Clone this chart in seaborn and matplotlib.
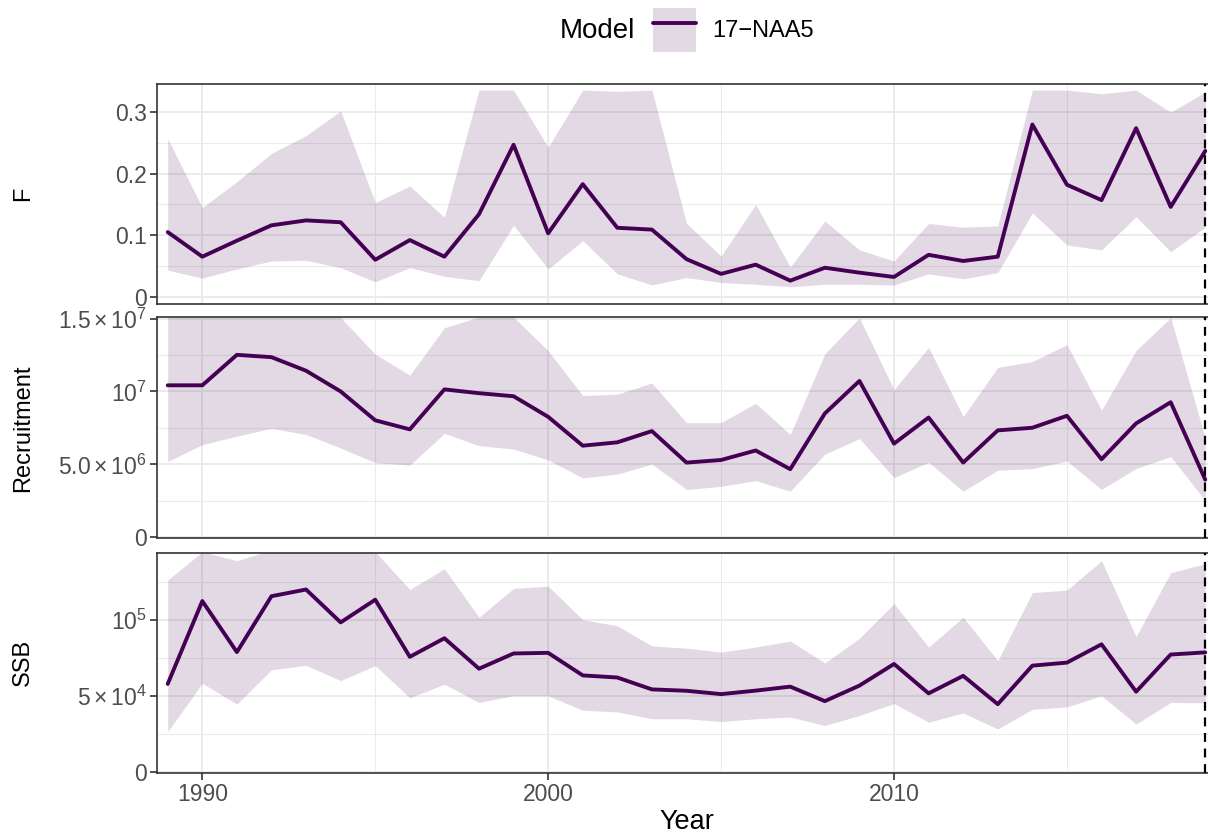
import numpy as np
import pandas as pd
import matplotlib
matplotlib.use("Agg")
import matplotlib.pyplot as plt
import seaborn as sns
from matplotlib.patches import Patch
from matplotlib.lines import Line2D
from matplotlib.ticker import FixedLocator

# data (model 17-NAA5)
years = list(range(1989, 2020))

f_est = [0.105, 0.065, 0.091, 0.116, 0.124, 0.121, 0.060, 0.092, 0.065, 0.134, 0.247,
         0.103, 0.183, 0.112, 0.109, 0.061, 0.037, 0.052, 0.026, 0.047, 0.039,
         0.032, 0.068, 0.058, 0.065, 0.280, 0.182, 0.157, 0.274, 0.146, 0.237]
f_lo = [0.043, 0.030, 0.045, 0.058, 0.059, 0.047, 0.024, 0.047, 0.033, 0.026, 0.116,
        0.045, 0.091, 0.037, 0.019, 0.031, 0.023, 0.020, 0.016, 0.020, 0.020,
        0.019, 0.037, 0.029, 0.039, 0.136, 0.084, 0.076, 0.130, 0.073, 0.113]
f_hi = [0.257, 0.145, 0.187, 0.233, 0.262, 0.302, 0.153, 0.180, 0.129, 0.336, 0.336,
        0.243, 0.336, 0.334, 0.336, 0.119, 0.066, 0.150, 0.048, 0.123, 0.076,
        0.058, 0.119, 0.113, 0.115, 0.336, 0.336, 0.330, 0.336, 0.300, 0.333]

# recruitment in millions
rec_est = [10.42, 10.42, 12.51, 12.35, 11.42, 10.00, 8.02, 7.40, 10.14, 9.88, 9.67,
           8.26, 6.28, 6.51, 7.28, 5.12, 5.30, 5.95, 4.67, 8.49, 10.72,
           6.42, 8.21, 5.12, 7.33, 7.51, 8.33, 5.35, 7.81, 9.26, 3.95]
rec_lo = [5.19, 6.35, 6.93, 7.47, 7.05, 6.12, 5.12, 4.95, 7.12, 6.28, 6.05,
          5.30, 4.07, 4.33, 5.02, 3.28, 3.49, 3.88, 3.16, 5.70, 6.77,
          4.09, 5.14, 3.16, 4.60, 4.70, 5.23, 3.28, 4.72, 5.53, 2.51]
rec_hi = [15.3, 15.3, 15.3, 15.3, 15.3, 15.07, 12.56, 11.12, 14.37, 15.1, 15.1,
          12.79, 9.72, 9.81, 10.58, 7.86, 7.86, 9.19, 7.05, 12.58, 15.05,
          10.12, 13.02, 8.28, 11.65, 12.05, 13.21, 8.72, 12.81, 15.05, 6.81]

# SSB in thousands
ssb_est = [58.0, 112.4, 78.9, 115.6, 120.0, 98.4, 113.3, 75.8, 88.0, 68.0, 78.0,
           78.4, 63.6, 62.2, 54.4, 53.5, 51.3, 53.6, 56.2, 46.7, 56.9,
           71.1, 51.8, 63.3, 44.7, 70.0, 72.0, 84.0, 52.9, 77.3, 78.7]
ssb_lo = [26.7, 58.4, 44.7, 67.3, 70.2, 60.2, 70.0, 48.9, 57.8, 45.8, 50.2,
          50.2, 40.7, 39.6, 35.1, 35.1, 33.3, 35.1, 36.2, 30.7, 37.3,
          45.1, 32.9, 38.9, 28.4, 41.3, 42.9, 50.2, 31.6, 45.8, 45.6]
ssb_hi = [126.2, 144.8, 138.9, 146.0, 146.0, 146.0, 144.8, 120.0, 133.6, 101.8, 120.7,
          122.2, 100.2, 96.2, 82.9, 81.5, 78.9, 82.2, 86.2, 71.8, 88.0,
          110.7, 82.2, 101.8, 73.3, 118.0, 119.6, 138.9, 89.1, 131.1, 136.9]

model_name = "17\u2212NAA5"
panel_names = ["F", "Recruitment", "SSB"]

f_ticks = [0, 0.1, 0.2, 0.3]
f_tick_labels = ["0", "0.1", "0.2", "0.3"]
rec_ticks = [0, 5e6, 1e7, 1.5e7]
rec_tick_labels = ["0", r"$5.0\times10^{6}$", r"$10^{7}$", r"$1.5\times10^{7}$"]
ssb_ticks = [0, 5e4, 1e5]
ssb_tick_labels = ["0", r"$5\times10^{4}$", r"$10^{5}$"]

df = pd.DataFrame({
    "Year": years,
    "F": f_est, "F_lo": f_lo, "F_hi": f_hi,
    "Recruitment": np.array(rec_est) * 1e6,
    "Recruitment_lo": np.array(rec_lo) * 1e6,
    "Recruitment_hi": np.array(rec_hi) * 1e6,
    "SSB": np.array(ssb_est) * 1e3,
    "SSB_lo": np.array(ssb_lo) * 1e3,
    "SSB_hi": np.array(ssb_hi) * 1e3,
})

sns.set_theme(style="white")
plt.rcParams["font.family"] = ["Liberation Sans", "DejaVu Sans"]
plt.rcParams["mathtext.fontset"] = "custom"
plt.rcParams["mathtext.rm"] = "Liberation Sans"
plt.rcParams["mathtext.it"] = "Liberation Sans:italic"
plt.rcParams["mathtext.bf"] = "Liberation Sans:bold"
plt.rcParams["mathtext.default"] = "regular"
plt.rcParams["text.color"] = "black"

col = "#440154"
W, H = 1208, 836
fig = plt.figure(figsize=(W / 100, H / 100), dpi=100)

# panel boxes in pixels (top, bottom)
boxes = [(83.5, 304), (317.5, 538), (552.5, 773)]
left_px, right_px = 157, 1216

ylims = [(-0.012, 0.3467), (-0.05e6, 15.07e6), (-0.5e3, 144.3e3)]
ticks = [(f_ticks, f_tick_labels), (rec_ticks, rec_tick_labels), (ssb_ticks, ssb_tick_labels)]

axes = []
for i, name in enumerate(panel_names):
    top, bot = boxes[i]
    ax = fig.add_axes([left_px / W, 1 - bot / H, (right_px - left_px) / W, (bot - top) / H])
    axes.append(ax)
    ax.fill_between(df["Year"], df[name + "_lo"], df[name + "_hi"],
                    color=col, alpha=0.15, lw=0, zorder=2)
    sns.lineplot(data=df, x="Year", y=name, ax=ax, color=col, lw=2.8, zorder=3)
    ax.axvline(years[-1], color="black", ls=(0, (4, 3)), lw=1.6, zorder=4)

    ax.set_xlim(1988.69, 2019.31)
    ax.set_ylim(*ylims[i])
    tk, lab = ticks[i]
    ax.yaxis.set_major_locator(FixedLocator(tk))
    ax.set_yticklabels(lab)
    step = tk[1] - tk[0]
    ax.yaxis.set_minor_locator(FixedLocator([t + step / 2 for t in tk]))
    ax.xaxis.set_major_locator(FixedLocator([1990, 2000, 2010]))
    ax.xaxis.set_minor_locator(FixedLocator([1995, 2005, 2015]))

    ax.grid(which="major", color="#EBEBEB", lw=1.4)
    ax.grid(which="minor", color="#EBEBEB", lw=0.75)
    ax.set_axisbelow(True)
    for s in ax.spines.values():
        s.set_color("#333333")
        s.set_linewidth(1.2)
    ax.tick_params(which="major", left=True, bottom=True, length=5, width=1.2,
                   color="#333333", labelsize=16.5, labelcolor="#4D4D4D", pad=2.5)
    ax.tick_params(which="minor", length=0)
    ax.set_xlabel("")
    ax.set_ylabel("")
    if i < 2:
        ax.tick_params(axis="x", which="both", length=0, labelbottom=False)
    fig.text(23 / W, 1 - (top + bot) / 2 / H, name, rotation=90,
             ha="center", va="center", fontsize=17, color="black")

axes[-1].set_xticklabels(["1990", "2000", "2010"])
fig.text((left_px + right_px) / 2 / W, 1 - 822 / H, "Year",
         ha="center", va="center", fontsize=19.5, color="black")

# legend at the top
fig.text(597 / W, 1 - 31 / H, "Model", ha="center", va="center", fontsize=20, color="black")
fs = 17
handle = (Patch(facecolor=col, alpha=0.15, lw=0), Line2D([], [], color=col, lw=2.8))
fig.legend(handles=[handle], labels=[model_name], loc="center left",
           bbox_to_anchor=(653 / W, 1 - 30 / H), frameon=False, fontsize=fs,
           labelcolor="black", borderaxespad=0, borderpad=0,
           handlelength=43 / (fs * 100 / 72), handleheight=2.45, handletextpad=0.7)

fig.savefig("out.png", dpi=100)
